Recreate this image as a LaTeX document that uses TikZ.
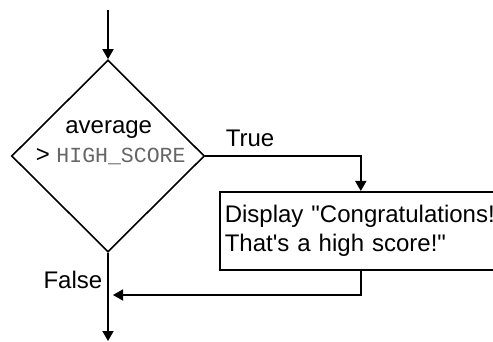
\documentclass[tikz,border=0pt]{standalone}
\usepackage{fontspec}
\setmainfont{Liberation Sans}[Ligatures=TeXOff]
\setmonofont{Liberation Mono}
\usepackage{tikz}
\usetikzlibrary{shapes.geometric,arrows.meta}
\tikzset{dec/.style={diamond,draw,line width=0.8pt,minimum width=96.5pt,minimum height=96pt,inner sep=0pt}}
\tikzset{proc/.style={rectangle,draw,line width=0.8pt,minimum width=141pt,minimum height=39pt,inner xsep=2.5pt,text width=136pt,align=left,font=\fontsize{12}{14.5}\selectfont}}
\tikzset{lbl/.style={inner sep=0pt,font=\fontsize{12}{14.5}\selectfont}}

\begin{document}
\begin{tikzpicture}[x=0.5pt,y=-0.5pt,>={Triangle[length=5pt,width=5.5pt]},line width=0.8pt]
        \useasboundingbox (0,0) rectangle (493,342);
        \node[dec] (q) at (108,156) {};
        \node[lbl,anchor=base] (avg) at (108.7,133.3) {average};
        \node[lbl,anchor=base west] (hs) at (35,162.3) {> \textcolor{black!60}{\fontsize{10.75}{12}\ttfamily HIGH\_SCORE}};
        \node[proc,anchor=north west] (msg) at (219,191) {Display "Congratulations!\\That's a high score!"};
        \node[lbl,anchor=base west] (t) at (225,147) {True};
        \node[lbl,anchor=base east] (f) at (103,288) {False};

        \coordinate (in) at (108,10);
        \coordinate (back) at (108,295);
        \coordinate (out) at (108,341);

        \draw [->] (in) -- (q.north);
        \draw [->] (q.east) -| (msg.north);
        \draw [->,shorten >=2.5pt] (msg.south) |- (back);
        \draw [->] (q.south) -- (out);
    \end{tikzpicture}
\end{document}
